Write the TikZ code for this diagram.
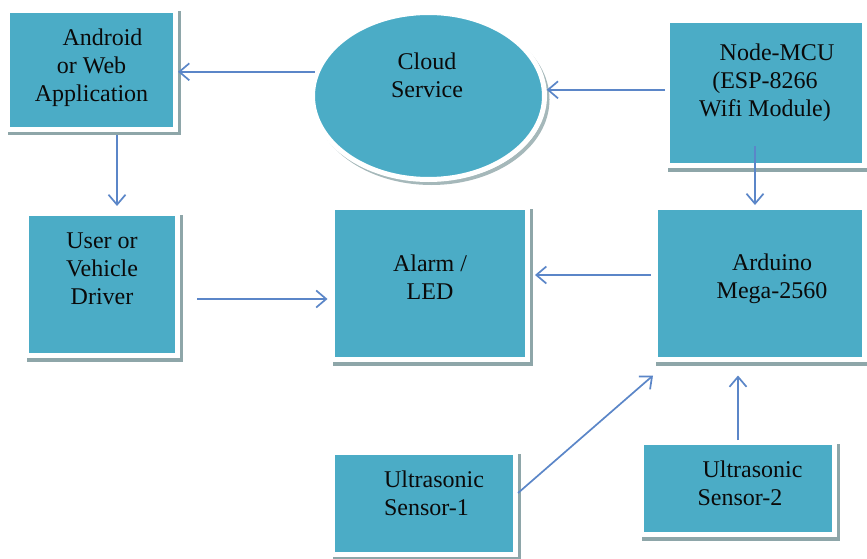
\documentclass[tikz,border=0pt]{standalone}
\usepackage{fontspec}
\setmainfont{Liberation Serif}
\usetikzlibrary{arrows.meta,calc,shadows,shapes.geometric}
\definecolor{boxfill}{HTML}{4BACC6}
\definecolor{shade}{HTML}{8EA6A9}
\definecolor{arrowcol}{HTML}{5B86C8}
\definecolor{ink}{HTML}{0A0A0A}
% #1 horizontal shift, #2 lift, #3 column alignment, #4 lines
\newcommand\btxt[4]{\makebox[0pt][c]{\raisebox{#2}[0pt][0pt]{\hspace*{#1}\hspace*{#1}\begin{tabular}{@{}#3@{}}#4\end{tabular}}}}
\tikzset{
  block/.style={rectangle, fill=boxfill, draw=white, line width=5pt, inner sep=0pt,
    general shadow={draw=shade, line width=5pt, shadow xshift=2.5pt, shadow yshift=-3.5pt},
    font=\fontsize{24}{28}\selectfont, text=ink},
  oval/.style={ellipse, fill=boxfill, draw=white, line width=5pt, inner sep=0pt,
    general shadow={draw=shade!80, line width=4pt, shadow xshift=3pt, shadow yshift=-3.5pt},
    font=\fontsize{24}{28}\selectfont, text=ink},
  arr/.style={draw=arrowcol, line width=1.7pt, -{Straight Barb[length=10pt,width=17pt]}}
}
\begin{document}
\begin{tikzpicture}[x=1pt,y=-1pt]
\useasboundingbox[fill=white] (0,0) rectangle (867,559);

\node[block, minimum width=168pt, minimum height=119pt] (android) at (91.5,70)
  {\btxt{0pt}{-4.5pt}{c}{\hspace*{22pt}Android\\or Web\\Application}};
\node[oval, minimum width=232pt, minimum height=167pt] (cloud) at (428.5,96)
  {\btxt{-1.5pt}{12pt}{c}{Cloud\\Service}};
\node[block, minimum width=197pt, minimum height=145pt] (nodemcu) at (766,93)
  {\btxt{-1pt}{4pt}{c}{\hspace*{24pt}Node-MCU\\(ESP-8266\\Wifi Module)}};
\node[block, minimum width=151pt, minimum height=142pt] (user) at (102,284.5)
  {\btxt{0pt}{7pt}{c}{User or\\Vehicle\\Driver}};
\node[block, minimum width=195pt, minimum height=152pt] (alarm) at (430,283.5)
  {\btxt{0pt}{-2.5pt}{c}{Alarm /\\LED}};
\node[block, minimum width=209pt, minimum height=152pt] (arduino) at (760,283.5)
  {\btxt{12pt}{-1.5pt}{c}{Arduino\\Mega-2560}};
\node[block, minimum width=183pt, minimum height=102pt] (sensorA) at (424,503.5)
  {\btxt{10pt}{1.5pt}{l}{Ultrasonic\\Sensor-1}};
\node[block, minimum width=193pt, minimum height=92pt] (sensorB) at (738,488.5)
  {\btxt{12pt}{-3.5pt}{l}{\hspace*{5pt}Ultrasonic\\Sensor-2}};

% connectors
\draw[arr] (cloud.168) -- (cloud.168 -| android.east);
\draw[arr] (nodemcu.west |- cloud.3.5) -- (cloud.3.5);
\coordinate (m1) at ($(nodemcu.south)+(-11,-22)$);
\draw[arr] (m1) -- (m1 |- arduino.north);
\coordinate (a1) at ($(android.south)+(25.5,3.5)$);
\draw[arr, shorten >=5pt] (a1) -- (a1 |- user.north);
\coordinate (u1) at ($(user.east)+(17,14.5)$);
\draw[arr, shorten >=2.5pt] (u1) -- (u1 -| alarm.west);
\coordinate (d1) at ($(arduino.west)+(-2.5,-8.5)$);
\draw[arr, shorten >=5pt] (d1) -- (d1 -| alarm.east);
\coordinate (s1) at ($(sensorA.east)+(0,-10.5)$);
\draw[arr] (s1) -- ($(arduino.south west)+(0,13.5)$);
\draw[arr] (sensorB.north) -- ($(sensorB.north |- arduino.south)+(0,13.5)$);
\end{tikzpicture}
\end{document}
